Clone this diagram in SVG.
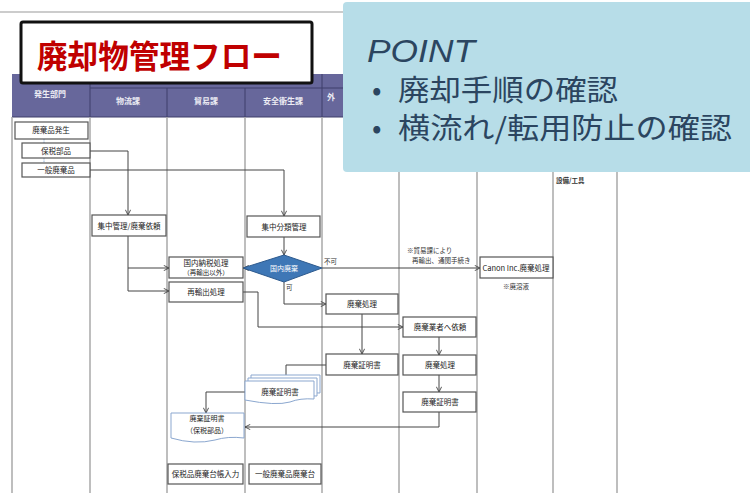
<svg xmlns="http://www.w3.org/2000/svg" width="750" height="493" viewBox="0 0 750 493">
<style>
.lane{stroke:#a8a8a8;stroke-width:1.5;fill:none}
.hd{fill:#ececf4;font-family:"Noto Sans CJK JP","Liberation Sans",sans-serif;font-size:8px;font-weight:bold;text-anchor:middle}
.box{fill:#fff;stroke:#555;stroke-width:1.2}
.t{fill:#222;font-family:"Noto Sans CJK JP","Liberation Sans",sans-serif;font-size:7.5px;text-anchor:middle}
.s{fill:#333;font-family:"Noto Sans CJK JP","Liberation Sans",sans-serif;font-size:6.5px}
.c{fill:none;stroke:#444;stroke-width:1}
.doc{fill:#fff;stroke:#8ba7cf;stroke-width:1}
.pt{fill:#2b4560;font-family:"Noto Sans CJK JP","Liberation Sans",sans-serif}
</style>
<defs>
<marker id="arr" viewBox="0 0 8 8" refX="7.5" refY="4" markerWidth="6" markerHeight="6" orient="auto" markerUnits="userSpaceOnUse">
<path d="M0.5,0.5 L7.5,4 L0.5,7.5" fill="none" stroke="#444" stroke-width="1.2"/>
</marker>
</defs>
<rect width="750" height="493" fill="#fff"/>
<line x1="0" y1="12" x2="750" y2="12" stroke="#999" stroke-width="1"/>

<g id="lanes">
<rect x="12" y="74" width="340" height="43" fill="#67679b"/>
<line x1="90" y1="88" x2="352" y2="88" stroke="#3e3e6a" stroke-width="1"/>
<line x1="12" y1="117" x2="352" y2="117" stroke="#3e3e6a" stroke-width="1.2"/>
<g stroke="#3e3e6a" stroke-width="1">
<line x1="90" y1="74" x2="90" y2="117"/>
<line x1="167" y1="88" x2="167" y2="117"/>
<line x1="245" y1="88" x2="245" y2="117"/>
<line x1="322" y1="74" x2="322" y2="117"/>
</g>
<text class="hd" x="50" y="97">発生部門</text>
<text class="hd" x="128" y="104">物流課</text>
<text class="hd" x="206" y="104">貿易課</text>
<text class="hd" x="283" y="104">安全衛生課</text>
<text class="hd" x="331" y="100" text-anchor="start">外</text>
<line class="lane" x1="12" y1="117" x2="12" y2="493"/>
<line class="lane" x1="90" y1="117" x2="90" y2="493"/>
<line class="lane" x1="167" y1="117" x2="167" y2="493"/>
<line class="lane" x1="245" y1="117" x2="245" y2="493"/>
<line class="lane" x1="322" y1="117" x2="322" y2="493"/>
<line class="lane" x1="399" y1="117" x2="399" y2="493"/>
<line class="lane" x1="477" y1="117" x2="477" y2="493"/>
<line class="lane" x1="553" y1="117" x2="553" y2="493"/>
<line class="lane" x1="617" y1="117" x2="617" y2="493"/>
<text class="s" x="556" y="183" style="font-weight:bold">設備/工具</text>
</g>

<g id="connectors">
<line x1="44" y1="139" x2="44" y2="143" stroke="#8fb0d8" stroke-dasharray="1.5,1"/>
<line x1="44" y1="158" x2="44" y2="163" stroke="#8fb0d8" stroke-dasharray="1.5,1"/>
<polyline class="c" points="90,151 128,151 128,215" marker-end="url(#arr)"/>
<polyline class="c" points="90,170 284,170 284,216" marker-end="url(#arr)"/>
<polyline class="c" points="128,236 128,268 169,268" marker-end="url(#arr)"/>
<polyline class="c" points="128,268 128,291 169,291" marker-end="url(#arr)"/>
<line class="c" x1="284" y1="237" x2="284" y2="255" marker-end="url(#arr)"/>
<polyline class="c" points="248,268 243.5,268" marker-end="url(#arr)"/>
<line class="c" x1="322" y1="268" x2="480" y2="268" marker-end="url(#arr)"/>
<polyline class="c" points="284,282 284,304 326,304" marker-end="url(#arr)"/>
<polyline class="c" points="243,292 258,292 258,327 403,327" marker-end="url(#arr)"/>
<line class="c" x1="362" y1="314" x2="362" y2="354" marker-end="url(#arr)"/>
<line class="c" x1="439" y1="337" x2="439" y2="355" marker-end="url(#arr)"/>
<line class="c" x1="439" y1="375" x2="439" y2="392" marker-end="url(#arr)"/>
<polyline class="c" points="326,365 286,365 286,381" marker-end="url(#arr)"/>
<polyline class="c" points="245,392 206,392 206,413" marker-end="url(#arr)"/>
<polyline class="c" points="439,412 439,427 245,427" marker-end="url(#arr)"/>
<text class="s" x="324" y="264" fill="#444">不可</text>
<text class="s" x="286" y="290">可</text>
<text class="s" x="407" y="253">※貿易課により</text>
<text class="s" x="412" y="263">再輸出、通関手続き</text>
</g>

<g id="n1"><rect class="box" x="15" y="122" width="73" height="17"/><text class="t" x="51" y="133">廃棄品発生</text></g>
<g id="n2"><rect class="box" x="22" y="143" width="68" height="15"/><text class="t" x="56" y="153.5">保税部品</text></g>
<g id="n3"><rect class="box" x="22" y="163" width="68" height="14"/><text class="t" x="56" y="173">一般廃棄品</text></g>
<g id="n4"><rect class="box" x="92" y="215" width="74" height="21"/><text class="t" x="129" y="228.5">集中管理/廃棄依頼</text></g>
<g id="n5"><rect class="box" x="247" y="216" width="73" height="21"/><text class="t" x="284" y="229.5">集中分類管理</text></g>
<g id="n6"><polygon points="284,255 322,268 284,282 243,268" fill="#3e77b6" stroke="#2d5a8e" stroke-width="1"/><text class="t" x="284" y="271" style="fill:#fff;font-size:7px">国内廃棄</text></g>
<g id="n7"><rect class="box" x="169" y="257" width="74" height="21"/><text class="t" x="206" y="266">国内納税処理</text><text class="t" x="206" y="275" style="font-size:6.5px">（再輸出以外）</text></g>
<g id="n8"><rect class="box" x="169" y="282" width="74" height="20"/><text class="t" x="206" y="295">再輸出処理</text></g>
<g id="n9"><rect class="box" x="480" y="257" width="73" height="21"/><text class="t" x="516" y="270.5">Canon Inc.廃棄処理</text><text class="s" x="516" y="289" text-anchor="middle">※廃溶液</text></g>
<g id="n10"><rect class="box" x="326" y="294" width="72" height="20"/><text class="t" x="362" y="307">廃棄処理</text></g>
<g id="n11"><rect class="box" x="403" y="317" width="73" height="20"/><text class="t" x="440" y="330">廃棄業者へ依頼</text></g>
<g id="n12"><rect class="box" x="326" y="354" width="72" height="21"/><text class="t" x="362" y="367.5">廃棄証明書</text></g>
<g id="n13"><rect class="box" x="403" y="355" width="73" height="20"/><text class="t" x="440" y="368">廃棄処理</text></g>
<g id="n14"><rect class="box" x="403" y="392" width="73" height="20"/><text class="t" x="440" y="405">廃棄証明書</text></g>
<g id="n15">
<path class="doc" d="M251,375 H320 V393 Q306,392 296,396 Q282,400 251,394 Z"/>
<path class="doc" d="M248,378 H317 V396 Q303,395 293,399 Q279,403 248,397 Z"/>
<path class="doc" d="M245,381 H314 V399 Q300,398 290,402 Q276,406 245,400 Z"/>
<text class="t" x="280" y="395">廃棄証明書</text>
</g>
<g id="n16">
<path class="doc" d="M171,413 H244 V438 Q228,436 215,440 Q195,445 171,438 Z"/>
<text class="t" x="207" y="421" style="font-size:7px">廃棄証明書</text>
<text class="t" x="207" y="433" style="font-size:7px">（保税部品）</text>
</g>
<g id="n17"><rect class="box" x="168" y="464" width="75" height="20"/><text class="t" x="205.5" y="477">保税品廃棄台帳入力</text></g>
<g id="n18"><rect class="box" x="249" y="464" width="72" height="20"/><text class="t" x="285" y="477">一般廃棄品廃棄台</text></g>

<g id="title">
<rect x="21" y="22" width="291" height="61" rx="2" fill="#fff" stroke="#111" stroke-width="3"/>
<text x="37" y="68" font-family="'Noto Sans CJK JP','Liberation Sans',sans-serif" font-size="32" font-weight="bold" fill="#c00000" textLength="245" lengthAdjust="spacingAndGlyphs">廃却物管理フロー</text>
</g>

<g id="point">
<rect x="343" y="2" width="420" height="170" rx="4" fill="#b7dde8"/>
<text class="pt" x="367" y="62" font-size="31" font-style="italic" style="font-family:'Liberation Sans',sans-serif;font-weight:normal" textLength="108" lengthAdjust="spacingAndGlyphs">POINT</text>
<text class="pt" x="372" y="100" font-size="28">•</text>
<text class="pt" x="398" y="101" font-size="29" textLength="220" lengthAdjust="spacingAndGlyphs">廃却手順の確認</text>
<text class="pt" x="372" y="138" font-size="28">•</text>
<text class="pt" x="398" y="139" font-size="29" textLength="334" lengthAdjust="spacingAndGlyphs">横流れ/転用防止の確認</text>
</g>
</svg>
